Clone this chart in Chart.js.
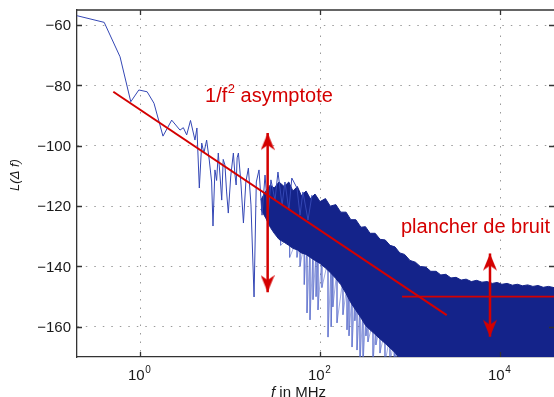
<!DOCTYPE html>
<html>
<head>
<meta charset="utf-8">
<script src="https://cdn.jsdelivr.net/npm/chart.js@4.4.1/dist/chart.umd.min.js"></script>
<style>
  html, body { margin: 0; padding: 0; background: #fff; }
  #wrap { width: 554px; height: 397px; }
</style>
</head>
<body>
<div id="wrap"><canvas id="c" width="554" height="397"></canvas></div>
<script>
// frequency axis (MHz, log) and level axis (dB)
const xMin = 0.1995;
const xMax = 39800;
const yMin = -170;
const yMax = -55;
const xTickPowers = [0, 2, 4];
const yTicks = [-160, -140, -120, -100, -80, -60];

const lowF = [0.20, 0.40, 0.60, 0.79, 0.97, 1.20, 1.43, 1.80, 2.25, 2.78,
  3.03, 3.30, 3.64, 4.08, 4.29, 4.56, 4.85, 5.13, 5.50, 5.88,
  6.25, 6.47, 6.80, 7.10, 7.41, 7.75, 8.09, 8.40, 8.79, 9.15,
  9.57, 10.2, 10.9, 11.3, 11.7, 12.0, 12.4, 13.2, 14.1, 15.0,
  16.0, 17.1, 18.5, 19.6, 21.0, 22.7, 24.5, 26.5, 28.5, 31.6,
  34.1, 37.9, 40.8, 45.1, 48.6, 55.5, 60.0, 64.6, 73.6, 81.5];
const lowL = [-56.9, -59.1, -70.5, -85.4, -81.5, -82.1, -85.9, -96.8, -91.5, -94.8,
  -94.0, -96.4, -91.6, -98.1, -94.1, -114.0, -99.1, -102.4, -98.1, -104.7,
  -112.0, -126.6, -108.0, -111.5, -102.4, -110.0, -118.0, -104.5, -106.4, -115.0,
  -122.3, -110.0, -102.4, -109.0, -113.0, -104.0, -102.4, -112.0, -125.6, -112.0,
  -107.4, -119.6, -150.1, -112.0, -108.0, -123.0, -109.7, -123.0, -111.3, -118.0,
  -108.7, -119.6, -112.0, -121.3, -110.7, -114.0, -123.0, -115.3, -124.6, -116.3];

// dense part: upper and lower edge of the dark band
const bandF = [22, 25, 28, 31, 35, 40, 45, 50, 56,
  62, 70, 78, 88, 100, 115, 130, 150, 170, 195,
  220, 250, 285, 320, 360, 410, 465, 530, 600, 680,
  770, 870, 1000, 1150, 1300, 1500, 1700, 1950, 2200, 2500,
  2850, 3250, 3700, 4200, 4800, 5500, 6300, 7200, 8200, 9300,
  10500, 12000, 13700, 15600, 17800, 20300, 23200, 26500, 30200, 34500, 39800];
const bandHigh = [-118.0, -115.0, -113.0, -114.0, -112.0, -113.5, -112.0, -115.0, -113.5,
  -116.5, -115.0, -117.5, -116.0, -118.5, -117.5, -120.0, -119.5, -122.0, -122.0,
  -124.5, -124.5, -127.0, -126.8, -129.0, -129.0, -131.0, -131.2, -133.0, -133.5,
  -135.5, -136.0, -138.0, -138.6, -140.0, -140.2, -141.6, -141.6, -142.8, -142.6,
  -143.8, -143.6, -144.5, -144.2, -145.0, -144.6, -145.2, -145.0, -145.6, -145.3,
  -145.9, -145.6, -146.2, -145.9, -146.4, -146.1, -146.6, -146.3, -146.9, -146.6, -147.0];
const bandLow = [-121, -124, -127, -129, -131, -132, -133, -134, -134.5,
  -135.5, -136, -137, -138, -139, -140.5, -142, -144, -146, -149,
  -152, -154.5, -157, -159.5, -161, -162.5, -164, -165.5, -167, -168.5,
  -170.5, -173, -175, -175, -175, -175, -175, -175, -175, -175,
  -175, -175, -175, -175, -175, -175, -175, -175, -175, -175,
  -175, -175, -175, -175, -175, -175, -175, -175, -175, -175, -175];

// isolated deep dips below the band
const spikeF = [36.5, 46, 55.5, 60, 66.8, 71.7, 77.4, 83.6, 90.4, 95,
  105, 122.7, 133, 139, 154.5, 180, 199.5, 210, 226.8, 244,
  257.7, 278, 300.6, 324, 341, 388, 418, 464, 527, 599,
  668, 699, 836];
const spikeTop = [-128, -130, -131, -132, -132, -133, -134, -135, -135, -136,
  -136, -138, -139, -140, -141, -144, -146, -147, -149, -150,
  -151, -153, -154, -156, -157, -158, -159, -160, -161, -163,
  -164, -165, -168];
const spikeLow = [-133, -137, -137, -140, -146, -155.4, -157.7, -151, -150, -154.4,
  -147, -163.4, -160, -153.4, -158.7, -156, -161, -163, -166.7, -158,
  -167.7, -172, -172, -163, -165, -172, -166, -168.7, -172, -172,
  -172, -172, -172];

// red annotations
const asymF = [0.505, 2560];
const asymL = [-82.1, -156.1];
const floorF = [815, 39800];
const floorL = [-150, -150];
const arrowLeftF = [26.2, 26.2];
const arrowLeftL = [-95.8, -148.5];
const arrowRightF = [7740, 7740];
const arrowRightL = [-135.7, -163.3];

const RED = '#d40000';
const NAVY = '#14238a';
const FONT = "'Liberation Sans', Arial, Helvetica, sans-serif";

const pts = (xs, ys) => xs.map((x, i) => ({ x: x, y: ys[i] }));

const spikePts = [];
spikeF.forEach((f, i) => {
  spikePts.push({ x: f, y: spikeTop[i] });
  spikePts.push({ x: f, y: spikeLow[i] });
});

function arrowHead() {
  const c = document.createElement('canvas');
  c.width = 14;
  c.height = 36;
  const g = c.getContext('2d');
  g.fillStyle = RED;
  g.beginPath();
  g.moveTo(7, 18);
  g.lineTo(14, 35);
  g.lineTo(7, 30);
  g.lineTo(0, 35);
  g.closePath();
  g.fill();
  return c;
}
const head = arrowHead();

const arrowDs = (xs, ys) => ({
  data: pts(xs, ys),
  borderColor: RED,
  backgroundColor: RED,
  borderWidth: 2.5,
  pointStyle: head,
  pointRadius: 7,
  pointRotation: [0, 180],
});

// axes box, inner ticks, texts
const decor = {
  id: 'decor',
  afterDraw(chart) {
    const { ctx, chartArea: a, scales } = chart;
    const xs = scales.x, ys = scales.y;
    ctx.save();
    ctx.strokeStyle = '#333';
    ctx.lineWidth = 1.3;
    ctx.beginPath();
    ctx.moveTo(a.left, a.top);
    ctx.lineTo(a.right, a.top);
    yTicks.forEach(v => {
      const y = Math.round(ys.getPixelForValue(v)) + 0.5;
      ctx.moveTo(a.left, y); ctx.lineTo(a.left + 5, y);
      ctx.moveTo(a.right - 5, y); ctx.lineTo(a.right, y);
    });
    xTickPowers.forEach(p => {
      const x = Math.round(xs.getPixelForValue(Math.pow(10, p))) + 0.5;
      ctx.moveTo(x, a.bottom); ctx.lineTo(x, a.bottom - 5);
      ctx.moveTo(x, a.top); ctx.lineTo(x, a.top + 5);
    });
    ctx.stroke();

    ctx.fillStyle = '#1a1a1a';

    // y tick labels
    ctx.font = '15px ' + FONT;
    ctx.textAlign = 'right';
    ctx.textBaseline = 'middle';
    yTicks.forEach(v => {
      ctx.fillText(String(v).replace('-', '\u2212'), a.left - 6, ys.getPixelForValue(v) + 1);
    });

    // x tick labels 10^p
    ctx.textBaseline = 'alphabetic';
    ctx.textAlign = 'left';
    xTickPowers.forEach(p => {
      const x = xs.getPixelForValue(Math.pow(10, p));
      ctx.font = '15px ' + FONT;
      const w = ctx.measureText('10').width;
      ctx.fillText('10', x - 12, a.bottom + 23);
      ctx.font = '10px ' + FONT;
      ctx.fillText(String(p), x - 12 + w + 0.5, a.bottom + 15.5);
    });

    // x title
    ctx.font = 'italic 15px ' + FONT;
    ctx.fillText('f', 271, 397);
    const fw = ctx.measureText('f').width;
    ctx.font = '15px ' + FONT;
    ctx.fillText(' in MHz', 271 + fw, 397);

    // y title
    ctx.save();
    ctx.translate(15, 175);
    ctx.rotate(-Math.PI / 2);
    ctx.textAlign = 'center';
    ctx.textBaseline = 'middle';
    ctx.font = 'italic 13px ' + FONT;
    ctx.fillText('L(\u0394 f)', 0, 0);
    ctx.restore();

    // red annotations
    ctx.fillStyle = RED;
    let x = xs.getPixelForValue(5.28);
    let y = ys.getPixelForValue(-85.4);
    ctx.font = '20px ' + FONT;
    ctx.fillText('1/f', x, y);
    x += ctx.measureText('1/f').width + 0.5;
    ctx.font = '13px ' + FONT;
    ctx.fillText('2', x, y - 8.5);
    x += ctx.measureText('2').width;
    ctx.font = '20px ' + FONT;
    ctx.fillText(' asymptote', x, y);

    ctx.fillText('plancher de bruit', xs.getPixelForValue(794), ys.getPixelForValue(-129.0));
    ctx.restore();
  }
};

new Chart(document.getElementById('c').getContext('2d'), {
  type: 'line',
  data: {
    datasets: [
      arrowDs(arrowLeftF, arrowLeftL),
      arrowDs(arrowRightF, arrowRightL),
      { data: pts(asymF, asymL), borderColor: RED, borderWidth: 2, pointRadius: 0 },
      { data: pts(floorF, floorL), borderColor: RED, borderWidth: 1.6, pointRadius: 0 },
      { data: pts(lowF, lowL), borderColor: '#3447b5', borderWidth: 1, pointRadius: 0 },
      { data: pts(bandF, bandHigh), borderColor: NAVY, backgroundColor: NAVY, borderWidth: 1,
        pointRadius: 0, fill: '+1' },
      { data: pts(bandF, bandLow), borderColor: NAVY, borderWidth: 1, pointRadius: 0 },
      { data: spikePts, borderColor: 'rgba(80,100,200,0.55)', borderWidth: 1, pointRadius: 0 },
    ]
  },
  options: {
    responsive: false,
    animation: false,
    events: [],
    layout: { autoPadding: false, padding: { top: 10, left: 0, right: 0, bottom: 0 } },
    plugins: { legend: { display: false }, tooltip: { enabled: false } },
    scales: {
      x: {
        type: 'logarithmic',
        min: xMin,
        max: xMax,
        afterBuildTicks: s => { s.ticks = xTickPowers.map(p => ({ value: Math.pow(10, p) })); },
        afterFit: s => { s.height = 40; },
        ticks: { display: false },
        grid: { color: '#9a9a9a', lineWidth: 1, drawTicks: false },
        border: { display: true, color: '#333', width: 1.3, dash: [1.5, 7] }
      },
      y: {
        type: 'linear',
        min: yMin,
        max: yMax,
        afterBuildTicks: s => { s.ticks = yTicks.map(v => ({ value: v })); },
        afterFit: s => { s.width = 77; },
        ticks: { display: false },
        grid: { color: '#9a9a9a', lineWidth: 1, drawTicks: false },
        border: { display: true, color: '#333', width: 1.3, dash: [1.5, 7] }
      }
    }
  },
  plugins: [decor]
});
</script>
</body>
</html>
